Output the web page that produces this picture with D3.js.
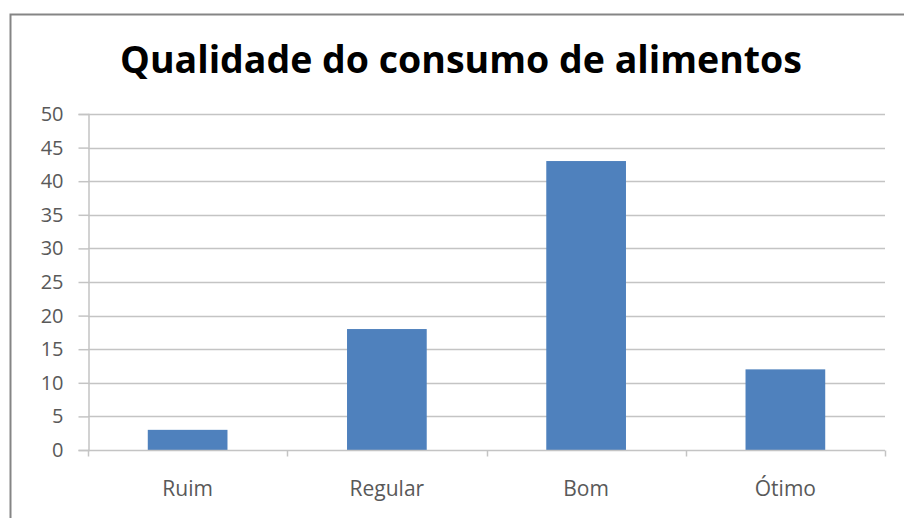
<!DOCTYPE html>
<html>
<head>
<meta charset="utf-8">
<script src="https://cdn.jsdelivr.net/npm/d3@7"></script>
<style>
  html, body { margin: 0; padding: 0; background: #fff; }
  svg { display: block; }
  text { font-family: "Open Sans", "Noto Sans", sans-serif; }
</style>
</head>
<body>
<svg id="chart" width="904" height="518"></svg>
<script>
// Chart data
const categories = ["Ruim", "Regular", "Bom", "Ótimo"];
const values = [3, 18, 43, 12];
const yTicks = [0, 5, 10, 15, 20, 25, 30, 35, 40, 45, 50];
const titleText = "Qualidade do consumo de alimentos";

const svg = d3.select("#chart");
const W = 904, H = 518;
const plot = { left: 88, right: 885, top: 114, bottom: 450 };

// Outer chart frame (runs past the right and bottom edges)
svg.append("rect")
  .attr("x", 10.5).attr("y", 14.5)
  .attr("width", W).attr("height", H)
  .attr("fill", "#fff")
  .attr("stroke", "#858585").attr("stroke-width", 2);

const x = d3.scaleBand()
  .domain(categories)
  .range([plot.left, plot.right])
  .padding(0);

const y = d3.scaleLinear()
  .domain([0, 50])
  .range([plot.bottom, plot.top]);

const gridColor = "#c4c4c4";

// Horizontal gridlines
svg.append("g")
  .selectAll("line")
  .data(yTicks.filter(d => d > 0))
  .join("line")
  .attr("x1", plot.left).attr("x2", plot.right)
  .attr("y1", d => Math.round(y(d)) + 0.5)
  .attr("y2", d => Math.round(y(d)) + 0.5)
  .attr("stroke", gridColor).attr("stroke-width", 1.5);

// Y axis
const yAxis = svg.append("g")
  .attr("transform", `translate(${plot.left + 0.5},0)`)
  .call(d3.axisLeft(y).tickValues(yTicks).tickSize(10).tickPadding(15).tickFormat(d3.format("d")));
yAxis.select(".domain").attr("stroke", gridColor).attr("stroke-width", 1.5);
yAxis.selectAll(".tick line").attr("stroke", gridColor).attr("stroke-width", 1.5);
yAxis.selectAll(".tick text")
  .attr("fill", "#595959")
  .style("font-size", "20px");

// Bars
const barW = x.bandwidth() * 0.4;
svg.append("g")
  .selectAll("rect")
  .data(values)
  .join("rect")
  .attr("x", (d, i) => x(categories[i]) + (x.bandwidth() - barW) / 2)
  .attr("y", d => y(d))
  .attr("width", barW)
  .attr("height", d => y(0) - y(d))
  .attr("fill", "#4f81bd");

// X axis with tick marks at category boundaries
const xAxisG = svg.append("g")
  .attr("transform", `translate(0,${plot.bottom + 0.5})`);
xAxisG.append("line")
  .attr("x1", plot.left).attr("x2", plot.right)
  .attr("stroke", gridColor).attr("stroke-width", 1.5);
const boundaries = categories.map(c => x(c)).concat([x(categories[categories.length - 1]) + x.bandwidth()]);
xAxisG.selectAll("line.tick")
  .data(boundaries)
  .join("line")
  .attr("class", "tick")
  .attr("x1", d => Math.round(d) + 0.5).attr("x2", d => Math.round(d) + 0.5)
  .attr("y1", 0).attr("y2", 6)
  .attr("stroke", gridColor).attr("stroke-width", 1.5);
xAxisG.selectAll("text")
  .data(categories)
  .join("text")
  .attr("x", d => x(d) + x.bandwidth() / 2)
  .attr("y", 45)
  .attr("text-anchor", "middle")
  .attr("fill", "#595959")
  .style("font-size", "21px")
  .text(d => d);

// Title
svg.append("text")
  .attr("x", 461)
  .attr("y", 73)
  .attr("text-anchor", "middle")
  .attr("fill", "#000")
  .style("font-size", "37.5px")
  .style("font-weight", "bold")
  .text(titleText);
</script>
</body>
</html>
